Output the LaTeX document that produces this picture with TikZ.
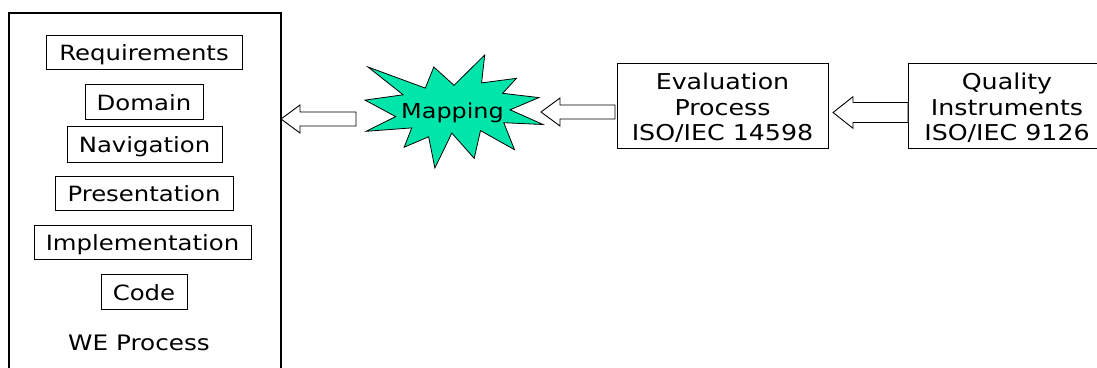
\documentclass[tikz,border=0pt]{standalone}
\usepackage{fontspec}
\setmainfont{DejaVu Sans}[FakeStretch=1.16]
\definecolor{mapgreen}{RGB}{0,229,170}
\tikzset{
  frame/.style={draw=black, line width=1.1pt},
  stagebox/.style={draw=black, line width=1pt, inner sep=0pt, minimum height=34pt,
    text height=17pt, text depth=0pt, font=\fontsize{21}{25}\selectfont},
  infobox/.style={draw=black, line width=1pt, inner sep=0pt,
    minimum height=85pt},
  infotext/.style={inner sep=0pt, align=center, font=\fontsize{21.8}{25.5}\selectfont},
  barrow/.style={draw=black, line width=0.9pt, fill=white},
  star/.style={draw=black, line width=0.8pt, fill=mapgreen},
  lbl/.style={inner sep=0pt, text height=15pt, text depth=0pt}
}
\newcommand\blockarrow[6]{% tipx, tipy, basex, tailx, headhalf, shafthalf
  \draw[barrow] (#1,#2) -- (#3,#2-#5) -- (#3,#2-#6) -- (#4,#2-#6) -- (#4,#2+#6)
    -- (#3,#2+#6) -- (#3,#2+#5) -- cycle;}
\begin{document}
\begin{tikzpicture}[x=1pt, y=-1pt]
\useasboundingbox (0,0) rectangle (1097,367);
% WE process frame
\draw[frame] (9,380) -- (9,13) -- (281,13) -- (281,380);
\node[stagebox, minimum width=196pt] (req) at (144,52) {Requirements};
\node[stagebox, minimum width=118pt, minimum height=35pt] (dom) at (144,101.5) {Domain};
\node[stagebox, minimum width=155pt, minimum height=36pt] (nav) at (144.5,144) {Navigation};
\node[stagebox, minimum width=178pt] (pres) at (144,193) {Presentation};
\node[stagebox, minimum width=217pt] (impl) at (142.5,242) {Implementation};
\node[stagebox, minimum width=86pt, minimum height=35pt] (code) at (144,291.5) {Code};
\node[lbl, font=\fontsize{21.3}{25}\selectfont] (we) at (139,342.5) {WE Process};
% Mapping star
\draw[star] (454,85.3) -- (484.7,55) -- (481.6,82.9) -- (516.5,78.3) -- (502.6,93.3)
  -- (538.9,97.6) -- (510.1,109.8) -- (543,124.5) -- (503.8,122.7) -- (514.5,149.7)
  -- (480.5,130.6) -- (474.2,158.3) -- (451.8,133.1) -- (434.9,168) -- (428.6,136.8)
  -- (404.2,147.2) -- (411.7,127.9) -- (366.1,131.3) -- (395.7,116.6) -- (365,100.1)
  -- (403.1,94.8) -- (368,67) -- (425.3,88.1) -- (433.8,67) -- cycle;
\node[lbl, font=\fontsize{20.6}{25}\selectfont] (map) at (452.5,110.8) {Mapping};
% Evaluation and quality boxes
\node[infobox, minimum width=211pt] (eval) at (722.5,105.5) {};
\node[infotext] (evaltxt) at ([yshift=-2.7pt]eval.center)
  {Evaluation\\Process\\ISO/IEC 14598};
\node[infobox, minimum width=198pt] (qual) at (1007,105.5) {};
\node[infotext] (qualtxt) at ([yshift=-2.7pt]qual.center)
  {Quality\\Instruments\\ISO/IEC 9126};
% block arrows
\blockarrow{281}{119}{300}{356}{14}{7}
\blockarrow{541}{112}{560}{615}{14}{7}
\blockarrow{833}{112.5}{853}{908}{15.8}{10}
\end{tikzpicture}
\end{document}
